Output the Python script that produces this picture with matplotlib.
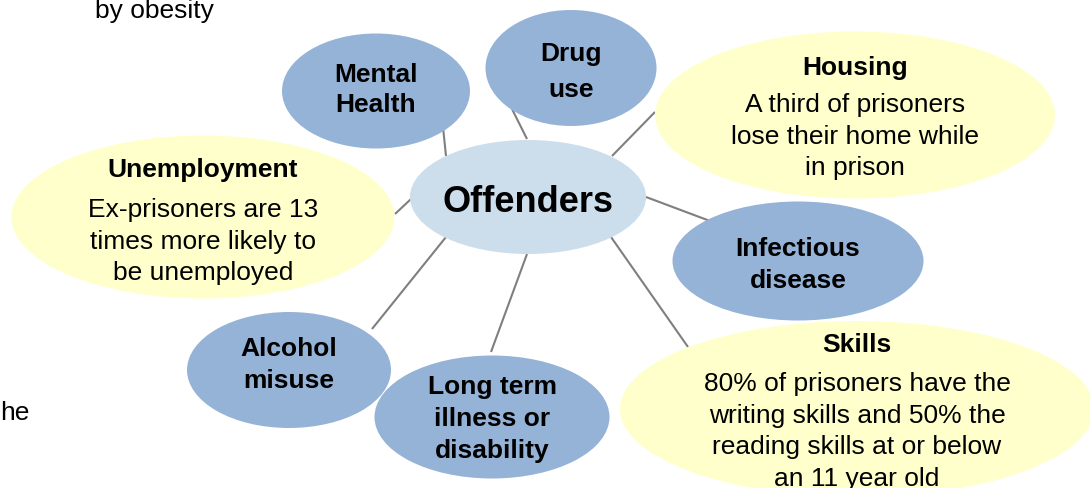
import matplotlib
matplotlib.use("Agg")
import matplotlib.pyplot as plt
from matplotlib.patches import Ellipse

plt.rcParams['font.family'] = ['Liberation Sans', 'DejaVu Sans']

# ---- content ----
center_label = "Offenders"
node_titles = ["Mental\nHealth", "Drug\nuse", "Housing", "Unemployment",
               "Infectious\ndisease", "Alcohol\nmisuse", "Long term\nillness or\ndisability", "Skills"]
node_bodies = ["", "", "A third of prisoners\nlose their home while\nin prison",
               "Ex-prisoners are 13\ntimes more likely to\nbe unemployed",
               "", "", "",
               "80% of prisoners have the\nwriting skills and 50% the\nreading skills at or below\nan 11 year old"]
node_kind = ["blue", "blue", "yellow", "yellow", "blue", "blue", "blue", "yellow"]
fragments = ["by obesity", "he"]

# ---- layout (pixel coordinates) ----
W, H = 1090, 489
center_ell = (528, 198, 236, 114)
node_ell = [(376, 92, 188, 115), (571, 69, 171, 116), (855, 116, 400, 167),
            (203, 218, 383, 163), (798, 262, 251, 119), (289, 371, 204, 116),
            (492, 418, 235, 123), (857, 410, 474, 176)]
title_y = [75, 54, 68, 170, 249, 349, 387, 345]
title_ls = [30, 36, 0, 0, 32, 32, 32, 0]
body_y = [0, 0, 105, 210, 0, 0, 0, 384]
connectors = [((443, 128), (446, 157)), ((512, 110), (527, 140)),
              ((612, 157), (655, 113)), ((395, 215), (411, 200)),
              ((646, 198), (710, 222)), ((372, 330), (446, 238)),
              ((491, 353), (527, 255)), ((611, 238), (688, 348))]
colors = {"blue": "#95B3D7", "yellow": "#FFFFCC"}

fig = plt.figure(figsize=(W / 100, H / 100), dpi=100)
ax = fig.add_axes([0, 0, 1, 1])
ax.set_xlim(0, W)
ax.set_ylim(H, 0)
ax.axis('off')

for (p0, p1) in connectors:
    ax.plot([p0[0], p1[0]], [p0[1], p1[1]], color="#7F7F7F", lw=1.5, zorder=1,
            solid_capstyle='butt')

cx, cy, cw, ch = center_ell
ax.add_patch(Ellipse((cx, cy), cw, ch, facecolor="#CCDDEB", edgecolor='none', zorder=2))
ax.text(cx, cy + 4, center_label, ha='center', va='center', fontsize=26,
        fontweight='bold', color='black', zorder=5)

for i, (ex, ey, ew, eh) in enumerate(node_ell):
    ax.add_patch(Ellipse((ex, ey), ew, eh, facecolor=colors[node_kind[i]],
                         edgecolor='none', zorder=2))
    lines = node_titles[i].split("\n")
    for k, ln in enumerate(lines):
        ax.text(ex, title_y[i] + k * title_ls[i], ln, ha='center', va='center',
                fontsize=19, fontweight='bold', color='black', zorder=5)
    if node_bodies[i]:
        for k, ln in enumerate(node_bodies[i].split("\n")):
            ax.text(ex, body_y[i] + k * 31.7, ln, ha='center', va='center',
                    fontsize=19, color='black', zorder=5)

ax.text(95, 11, fragments[0], ha='left', va='center', fontsize=19, color='black')
ax.text(0, 413, fragments[1], ha='left', va='center', fontsize=19, color='black')

fig.savefig("out.png", dpi=100, facecolor='white')
